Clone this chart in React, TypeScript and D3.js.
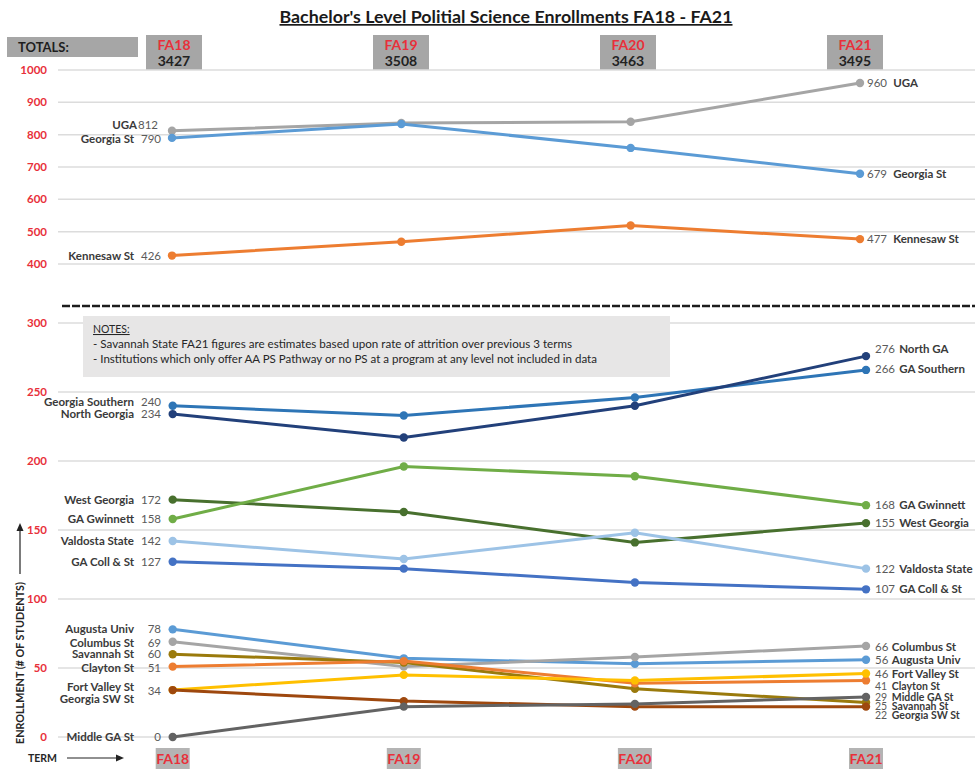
import React from "react";
import * as d3 from "d3";

const terms = ["FA18", "FA19", "FA20", "FA21"];
const totals = [3427, 3508, 3463, 3495];

const topTicks = [400, 500, 600, 700, 800, 900, 1000];
const bottomTicks = [0, 50, 100, 150, 200, 250, 300];

const topLeftNames = ["UGA", "Georgia St", "Kennesaw St"];
const topRightNames = ["UGA", "Georgia St", "Kennesaw St"];
const topValues = [
  [812, 836, 840, 960],
  [790, 833, 759, 679],
  [426, 469, 519, 477],
];

const bottomLeftNames = [
  "Georgia Southern", "North Georgia", "West Georgia", "GA Gwinnett", "Valdosta State",
  "GA Coll & St", "Augusta Univ", "Columbus St", "Savannah St", "Clayton St",
  "Fort Valley St", "Georgia SW St", "Middle GA St",
];
const bottomRightNames = [
  "GA Southern", "North GA", "West Georgia", "GA Gwinnett", "Valdosta State",
  "GA Coll & St", "Augusta Univ", "Columbus St", "Savannah St", "Clayton St",
  "Fort Valley St", "Georgia SW St", "Middle GA St",
];
const bottomValues = [
  [240, 233, 246, 266],
  [234, 217, 240, 276],
  [172, 163, 141, 155],
  [158, 196, 189, 168],
  [142, 129, 148, 122],
  [127, 122, 112, 107],
  [78, 57, 53, 56],
  [69, 51, 58, 66],
  [60, 54, 35, 25],
  [51, 55, 39, 41],
  [34, 45, 41, 46],
  [34, 26, 22, 22],
  [0, 22, 24, 29],
];

const notesTitle = "NOTES:";
const notesLines = [
  "- Savannah State FA21 figures are estimates based upon rate of attrition over previous 3 terms",
  "- Institutions which only offer AA PS Pathway or no PS at a program at any level not included in data",
];
const titleText = "Bachelor's Level Politial Science Enrollments FA18 - FA21";

// ---- styles / label placement (not data) ----
const topColors = ["#a5a5a5", "#5b9bd5", "#ed7d31"];
const bottomColors = [
  "#2e75b6", "#22407a", "#48702e", "#70ad47", "#9dc3e6",
  "#4472c4", "#5b9bd5", "#a5a5a5", "#9a7a0c", "#ed7d31",
  "#ffc000", "#9e480e", "#636363",
];
const topLeftLabelAt = [830, 786, 426];
const topRightLabelAt = [960, 679, 477];
const bottomLeftLabelAt = [243, 234, 172, 158, 142, 127, 78, 68, 60, 50, 36.5, 27.5, 0];
const bottomLeftValueAt: (number | null)[] = [243, 234, 172, 158, 142, 127, 78, 68, 60, 50, 33, null, 0];
const bottomRightLabelAt = [267, 281, 155, 168, 122, 107, 55.6, 65, 22, 36.5, 45.7, 15.5, 29];
const bottomRightSmall = [false, false, false, false, false, false, false, false, true, true, false, true, true];

const FONT = "Lato, 'Open Sans', sans-serif";
const RED = "#e8303a";
const NAME_COLOR = "#3a3a3a";
const VALUE_COLOR = "#5a5a5a";

export default function App() {
  const W = 975;
  const H = 771;
  const xTop = d3.scalePoint<string>().domain(terms).range([172, 860]);
  const xBot = d3.scalePoint<string>().domain(terms).range([172.7, 866]);
  const xHead = d3.scalePoint<string>().domain(terms).range([174, 855]);
  const yTop = d3.scaleLinear().domain([400, 1000]).range([264, 70]);
  const yBot = d3.scaleLinear().domain([0, 300]).range([737, 323]);

  const lineTop = d3.line<number>().x((_, i) => xTop(terms[i])!).y((d) => yTop(d));
  const lineBot = d3.line<number>().x((_, i) => xBot(terms[i])!).y((d) => yBot(d));

  const digitW = 6.4;

  return (
    <svg
      width={W}
      height={H}
      style={{ position: "absolute", left: 0, top: 0, background: "#fff" }}
      fontFamily={FONT}
    >
      <rect x={0} y={0} width={W} height={H} fill="#fff" />
      {/* Title */}
      <text
        x={506}
        y={23}
        textAnchor="middle"
        fontSize={17}
        fontWeight="bold"
        fill="#1a1a1a"
        textDecoration="underline"
        textLength={453}
        lengthAdjust="spacingAndGlyphs"
      >
        {titleText}
      </text>

      {/* Totals header */}
      <rect x={7} y={37} width={131} height={20} fill="#a6a6a6" />
      <text x={18} y={52} fontSize={13} fontWeight="bold" fill="#1e1e1e">TOTALS:</text>
      {terms.map((t, i) => (
        <g key={"head" + t}>
          <rect x={xHead(t)! - 28} y={35} width={56} height={35} fill="#a6a6a6" />
          <text x={xHead(t)!} y={50} textAnchor="middle" fontSize={14} fontWeight="bold" fill={RED}>{t}</text>
          <text x={xHead(t)!} y={66} textAnchor="middle" fontSize={14} fontWeight="bold" fill="#222">{totals[i]}</text>
        </g>
      ))}

      {/* Top grid */}
      {topTicks.map((t) => (
        <g key={"tt" + t}>
          <line x1={58} x2={W} y1={yTop(t)} y2={yTop(t)} stroke="#dcdcdc" strokeWidth={1.5} />
          <text x={47} y={yTop(t)} dy="0.35em" textAnchor="end" fontSize={11.5} fontWeight="bold" fill={RED}>{t}</text>
        </g>
      ))}

      {/* Bottom grid */}
      {bottomTicks.map((t) => (
        <g key={"bt" + t}>
          <line x1={58} x2={W} y1={yBot(t)} y2={yBot(t)} stroke="#dcdcdc" strokeWidth={1.5} />
          <text x={47} y={yBot(t)} dy="0.35em" textAnchor="end" fontSize={11.5} fontWeight="bold" fill={RED}>{t}</text>
        </g>
      ))}

      {/* separator */}
      <line x1={62} x2={W} y1={306} y2={306} stroke="#1c1c1c" strokeWidth={2.5} strokeDasharray="8 2" />

      {/* Notes */}
      <rect x={83} y={316} width={587} height={61} fill="#e7e6e6" />
      <text x={93} y={333} fontSize={10.5} fill="#262626" textDecoration="underline">{notesTitle}</text>
      <text x={93} y={348} fontSize={10.5} fill="#262626" textLength={479} lengthAdjust="spacingAndGlyphs">{notesLines[0]}</text>
      <text x={93} y={363} fontSize={10.5} fill="#262626" textLength={504} lengthAdjust="spacingAndGlyphs">{notesLines[1]}</text>

      {/* Top series */}
      {topValues.map((vals, si) => (
        <g key={"ts" + si}>
          <path d={lineTop(vals)!} fill="none" stroke={topColors[si]} strokeWidth={3} />
          {vals.map((v, i) => (
            <circle key={i} cx={xTop(terms[i])!} cy={yTop(v)} r={4.2} fill={topColors[si]} />
          ))}
          <text x={si === 0 ? 137 : 134} y={yTop(topLeftLabelAt[si])} dy="0.35em" textAnchor="end" fontSize={11.5} fontWeight="bold" fill={NAME_COLOR}>{topLeftNames[si]}</text>
          <text x={si === 0 ? 158 : 161} y={yTop(topLeftLabelAt[si])} dy="0.35em" textAnchor="end" fontSize={11.5} fill={VALUE_COLOR}>{vals[0]}</text>
          <text x={xTop(terms[3])! + 7} y={yTop(topRightLabelAt[si])} dy="0.35em" fontSize={11.5} fill={VALUE_COLOR}>{vals[3]}</text>
          <text x={xTop(terms[3])! + 7 + String(vals[3]).length * digitW + 7} y={yTop(topRightLabelAt[si])} dy="0.35em" fontSize={11.5} fontWeight="bold" fill={NAME_COLOR}>{topRightNames[si]}</text>
        </g>
      ))}

      {/* Bottom series */}
      {bottomValues.map((vals, si) => (
        <g key={"bs" + si}>
          <path d={lineBot(vals)!} fill="none" stroke={bottomColors[si]} strokeWidth={3} />
          {vals.map((v, i) => (
            <circle key={i} cx={xBot(terms[i])!} cy={yBot(v)} r={4.2} fill={bottomColors[si]} />
          ))}
        </g>
      ))}
      {bottomValues.map((vals, si) => {
        const xr = xBot(terms[3])! + 9;
        const valStr = String(vals[3]);
        const va = bottomLeftValueAt[si];
        const fs = bottomRightSmall[si] ? 10.5 : 11.5;
        return (
          <g key={"bl" + si}>
            <text x={134} y={yBot(bottomLeftLabelAt[si])} dy="0.35em" textAnchor="end" fontSize={11.5} fontWeight="bold" fill={NAME_COLOR}>{bottomLeftNames[si]}</text>
            {va !== null && (
              <text x={161} y={yBot(va)} dy="0.35em" textAnchor="end" fontSize={11.5} fill={VALUE_COLOR}>{vals[0]}</text>
            )}
            <text x={xr} y={yBot(bottomRightLabelAt[si])} dy="0.35em" fontSize={fs} fill={VALUE_COLOR}>{valStr}</text>
            <text x={xr + valStr.length * digitW + (valStr.length > 2 ? 5 : 4)} y={yBot(bottomRightLabelAt[si])} dy="0.35em" fontSize={fs} fontWeight="bold" fill={NAME_COLOR}>{bottomRightNames[si]}</text>
          </g>
        );
      })}

      {/* Bottom term labels */}
      {terms.map((t) => (
        <g key={"bterm" + t}>
          <rect x={xBot(t)! - 17} y={748} width={34} height={21} fill="#b4b4b4" />
          <text x={xBot(t)!} y={764} textAnchor="middle" fontSize={14} fontWeight="bold" fill={RED}>{t}</text>
        </g>
      ))}

      {/* Y axis title and arrow */}
      <text
        transform="translate(24,663) rotate(-90)"
        textAnchor="middle"
        fontSize={10.5}
        fontWeight="bold"
        fill="#262626"
        textLength={162}
        lengthAdjust="spacingAndGlyphs"
      >
        ENROLLMENT (# OF STUDENTS)
      </text>
      <line x1={20} x2={20} y1={574} y2={530} stroke="#222" strokeWidth={1.2} />
      <path d="M20,523 L16.5,531 L23.5,531 Z" fill="#222" />

      {/* TERM arrow */}
      <text x={28} y={762} fontSize={10.5} fontWeight="bold" fill="#262626">TERM</text>
      <line x1={67} x2={117} y1={758} y2={758} stroke="#222" strokeWidth={1.2} />
      <path d="M124,758 L116,754.5 L116,761.5 Z" fill="#222" />
    </svg>
  );
}
